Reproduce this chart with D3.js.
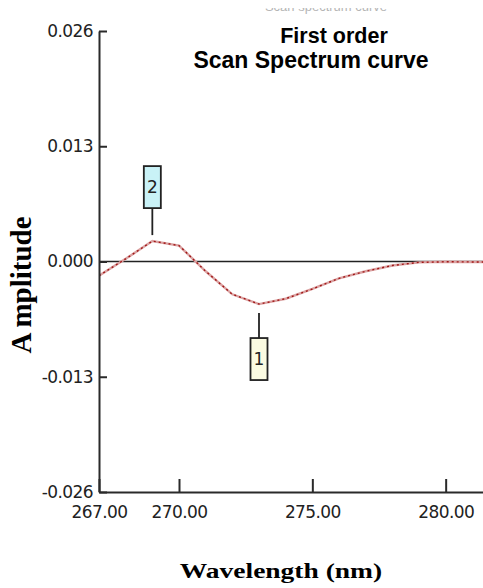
<!DOCTYPE html>
<html>
<head>
<meta charset="utf-8">
<script src="https://cdn.jsdelivr.net/npm/d3@7"></script>
<style>
  body { margin: 0; background: #fff; }
  svg { display: block; }
</style>
</head>
<body>
<div id="chart"></div>
<script>
// wavelength (nm) and first order amplitude
var wavelengths = [267, 268, 269, 270, 271, 272, 273, 274, 275, 276, 277, 278, 279, 280, 281, 282];
var amplitudes = [-0.0016, 0.0003, 0.0023, 0.0018, -0.0011, -0.0037, -0.0048, -0.0042, -0.0031, -0.0019, -0.0011, -0.00045, -0.0001, -0.00003, -0.00005, -0.00005];

var xTicks = [267, 270, 275, 280];
var yTicks = [-0.026, -0.013, 0, 0.013, 0.026];

// labelled peaks
var peakLabels = [
  { label: "1", wl: 273, fill: "#fbfbe2", side: "below" },
  { label: "2", wl: 269, fill: "#c9f2f7", side: "above" }
];

var width = 483, height = 588;

var svg = d3.select("#chart")
  .append("svg")
  .attr("width", width)
  .attr("height", height);

var x = d3.scaleLinear().domain([267, 281.4]).range([99, 483]);
var y = d3.scaleLinear().domain([-0.026, 0.026]).range([492, 31]);

var fmt = function(d) { return d3.format(".3f")(d).replace("\u2212", "-"); };

svg.append("clipPath").attr("id", "plot")
  .append("rect").attr("x", 99).attr("y", 20).attr("width", 384).attr("height", 472);

// faint cut-off text at top
svg.append("text")
  .attr("x", 326).attr("y", 11)
  .attr("text-anchor", "middle")
  .style("font-family", "Liberation Sans")
  .style("font-size", "13px")
  .style("fill", "#b5b5b5")
  .text("Scan spectrum curve");
svg.append("rect").attr("x", 240).attr("y", 0).attr("width", 200).attr("height", 8).attr("fill", "#fff");

// title
svg.append("text")
  .attr("x", 334).attr("y", 43)
  .attr("text-anchor", "middle")
  .style("font-family", "Liberation Sans")
  .style("font-weight", "bold")
  .style("font-size", "21.5px")
  .text("First order");
svg.append("text")
  .attr("x", 311).attr("y", 68)
  .attr("text-anchor", "middle")
  .style("font-family", "Liberation Sans")
  .style("font-weight", "bold")
  .style("font-size", "23px")
  .text("Scan Spectrum curve");

// zero line
svg.append("line")
  .attr("x1", x(267)).attr("x2", 483)
  .attr("y1", y(0)).attr("y2", y(0))
  .attr("stroke", "#222")
  .attr("stroke-width", 1.6);

// curve
var line = d3.line()
  .x(function(d, i) { return x(wavelengths[i]); })
  .y(function(d) { return y(d); });

var g = svg.append("g").attr("clip-path", "url(#plot)");
g.append("path")
  .datum(amplitudes)
  .attr("d", line)
  .attr("fill", "none")
  .attr("stroke", "#dba3a3")
  .attr("stroke-width", 2.4);
g.append("path")
  .datum(amplitudes)
  .attr("d", line)
  .attr("fill", "none")
  .attr("stroke", "#a01818")
  .attr("stroke-width", 1.4)
  .attr("stroke-dasharray", "2,3");

// axes
var xAxis = d3.axisBottom(x).tickValues(xTicks)
  .tickFormat(d3.format(".2f"))
  .tickSize(-13).tickSizeOuter(0).tickPadding(14);
svg.append("g")
  .attr("class", "axis x-axis")
  .attr("transform", "translate(0," + y(-0.026) + ")")
  .call(xAxis);

var yAxis = d3.axisLeft(y).tickValues(yTicks)
  .tickFormat(fmt)
  .tickSize(-8).tickSizeOuter(0).tickPadding(6);
svg.append("g")
  .attr("class", "axis y-axis")
  .attr("transform", "translate(" + x(267) + ",0)")
  .call(yAxis);

svg.selectAll(".axis path, .axis line")
  .attr("stroke", "#2a2a2a")
  .attr("stroke-width", 2);
svg.selectAll(".axis text")
  .style("font-family", "DejaVu Sans")
  .style("font-size", "17px")
  .style("letter-spacing", "-0.6px")
  .style("fill", "#222");

// peak labels
peakLabels.forEach(function(p) {
  var i = wavelengths.indexOf(p.wl);
  var px = x(p.wl), py = y(amplitudes[i]);
  var boxW = 17, boxH = 42;
  var l1, l2, by;
  if (p.side === "above") { l1 = py - 6; l2 = py - 33; by = l2 - boxH; }
  else { l1 = py + 9; l2 = py + 34; by = l2; }
  svg.append("line")
    .attr("x1", px).attr("x2", px).attr("y1", l1).attr("y2", l2)
    .attr("stroke", "#222").attr("stroke-width", 1.8);
  svg.append("rect")
    .attr("x", px - boxW / 2).attr("y", by)
    .attr("width", boxW).attr("height", boxH)
    .attr("fill", p.fill)
    .attr("stroke", "#222").attr("stroke-width", 1.8);
  svg.append("text")
    .attr("x", px).attr("y", by + boxH / 2)
    .attr("dy", "0.36em")
    .attr("text-anchor", "middle")
    .style("font-family", "DejaVu Sans")
    .style("font-size", "17px")
    .style("fill", "#222")
    .text(p.label);
});

// axis titles
svg.append("text")
  .attr("transform", "translate(281,578) scale(1.25,1)")
  .attr("text-anchor", "middle")
  .style("font-family", "Liberation Serif")
  .style("font-weight", "bold")
  .style("font-size", "22px")
  .text("Wavelength (nm)");

var yTitle = svg.append("text")
  .attr("transform", "translate(31,285) rotate(-90)")
  .attr("text-anchor", "middle")
  .style("font-family", "Liberation Serif")
  .style("font-weight", "bold")
  .style("font-size", "29px");
yTitle.append("tspan").text("A");
yTitle.append("tspan").attr("dx", 5).text("mplitude");
</script>
</body>
</html>
